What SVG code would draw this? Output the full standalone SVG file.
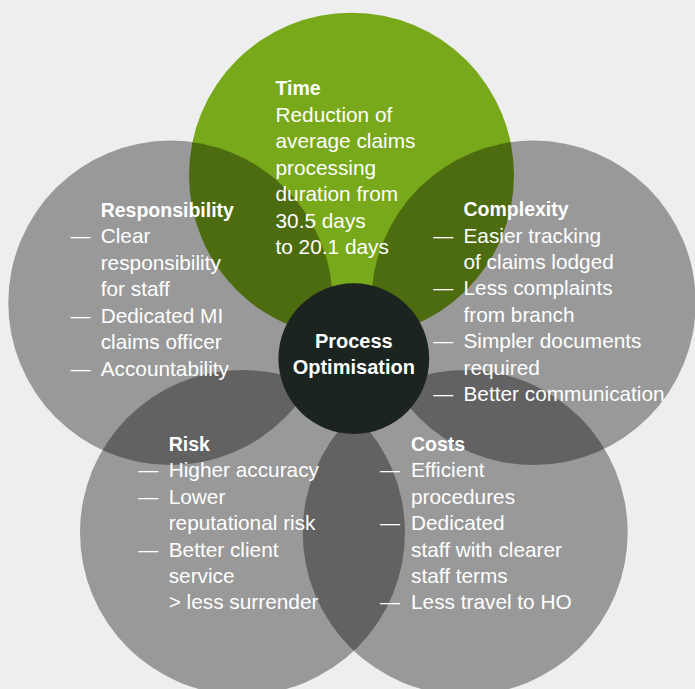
<svg xmlns="http://www.w3.org/2000/svg" width="695" height="689" viewBox="0 0 695 689">
<style>
  .bg { fill: #eeeeee; }
  .gray { fill: #000000; fill-opacity: 0.355; }
  .green { fill: #78a91a; }
  .hub { fill: #1c241f; }
  text { font-family: "Liberation Sans", Arial, sans-serif; fill: #ffffff; }
  .t { font-size: 20.8px; }
  .h { font-size: 19.5px; font-weight: bold; }
  .c { font-size: 20px; font-weight: bold; text-anchor: middle; }
  .d { font-size: 20px; }
</style>
<rect class="bg" x="0" y="0" width="695" height="689"/>
<g id="discs">
  <circle id="disc-time" class="green" cx="351.5" cy="175.2" r="162.5"/>
  <circle id="disc-responsibility" class="gray" cx="170.5" cy="302.8" r="162.2"/>
  <circle id="disc-complexity" class="gray" cx="533.5" cy="302.8" r="162.2"/>
  <circle id="disc-risk" class="gray" cx="242.5" cy="532.5" r="162.5"/>
  <circle id="disc-costs" class="gray" cx="465.2" cy="532.5" r="162.5"/>
  <circle id="disc-hub" class="hub" cx="353.8" cy="358.6" r="75.4"/>
</g>
<g id="connectors"></g>
<g id="node-time">
  <text class="h" x="275.5" y="95">Time</text>
  <text class="t" x="275.5" y="121.5">Reduction of</text>
  <text class="t" x="275.5" y="148">average claims</text>
  <text class="t" x="275.5" y="174.5">processing</text>
  <text class="t" x="275.5" y="201">duration from</text>
  <text class="t" x="275.5" y="227.5">30.5 days</text>
  <text class="t" x="275.5" y="254">to 20.1 days</text>
</g>
<g id="node-responsibility">
  <text class="h" x="100.7" y="216.5">Responsibility</text>
  <text class="d" x="70.5" y="243">—</text>
  <text class="t" x="100.7" y="243">Clear</text>
  <text class="t" x="100.7" y="269.5">responsibility</text>
  <text class="t" x="100.7" y="296">for staff</text>
  <text class="d" x="70.5" y="322.5">—</text>
  <text class="t" x="100.7" y="322.5">Dedicated MI</text>
  <text class="t" x="100.7" y="349">claims officer</text>
  <text class="d" x="70.5" y="375.5">—</text>
  <text class="t" x="100.7" y="375.5">Accountability</text>
</g>
<g id="node-complexity">
  <text class="h" x="463.5" y="216">Complexity</text>
  <text class="d" x="433.3" y="242.5">—</text>
  <text class="t" x="463.5" y="242.5">Easier tracking</text>
  <text class="t" x="463.5" y="268.9">of claims lodged</text>
  <text class="d" x="433.3" y="295.4">—</text>
  <text class="t" x="463.5" y="295.4">Less complaints</text>
  <text class="t" x="463.5" y="321.8">from branch</text>
  <text class="d" x="433.3" y="348.3">—</text>
  <text class="t" x="463.5" y="348.3">Simpler documents</text>
  <text class="t" x="463.5" y="374.7">required</text>
  <text class="d" x="433.3" y="401.1">—</text>
  <text class="t" x="463.5" y="401.1">Better communication</text>
</g>
<g id="node-risk">
  <text class="h" x="168.7" y="450.7">Risk</text>
  <text class="d" x="138.3" y="477.1">—</text>
  <text class="t" x="168.7" y="477.1">Higher accuracy</text>
  <text class="d" x="138.3" y="503.6">—</text>
  <text class="t" x="168.7" y="503.6">Lower</text>
  <text class="t" x="168.7" y="530">reputational risk</text>
  <text class="d" x="138.3" y="556.5">—</text>
  <text class="t" x="168.7" y="556.5">Better client</text>
  <text class="t" x="168.7" y="582.9">service</text>
  <text class="t" x="168.7" y="609.3">&gt; less surrender</text>
</g>
<g id="node-costs">
  <text class="h" x="411" y="450.7">Costs</text>
  <text class="d" x="380" y="477.1">—</text>
  <text class="t" x="411" y="477.1">Efficient</text>
  <text class="t" x="411" y="503.6">procedures</text>
  <text class="d" x="380" y="530">—</text>
  <text class="t" x="411" y="530">Dedicated</text>
  <text class="t" x="411" y="556.5">staff with clearer</text>
  <text class="t" x="411" y="582.9">staff terms</text>
  <text class="d" x="380" y="609.3">—</text>
  <text class="t" x="411" y="609.3">Less travel to HO</text>
</g>
<g id="node-process-optimisation">
  <text class="c" x="353.8" y="347.7">Process</text>
  <text class="c" x="353.8" y="374.3">Optimisation</text>
</g>
</svg>
